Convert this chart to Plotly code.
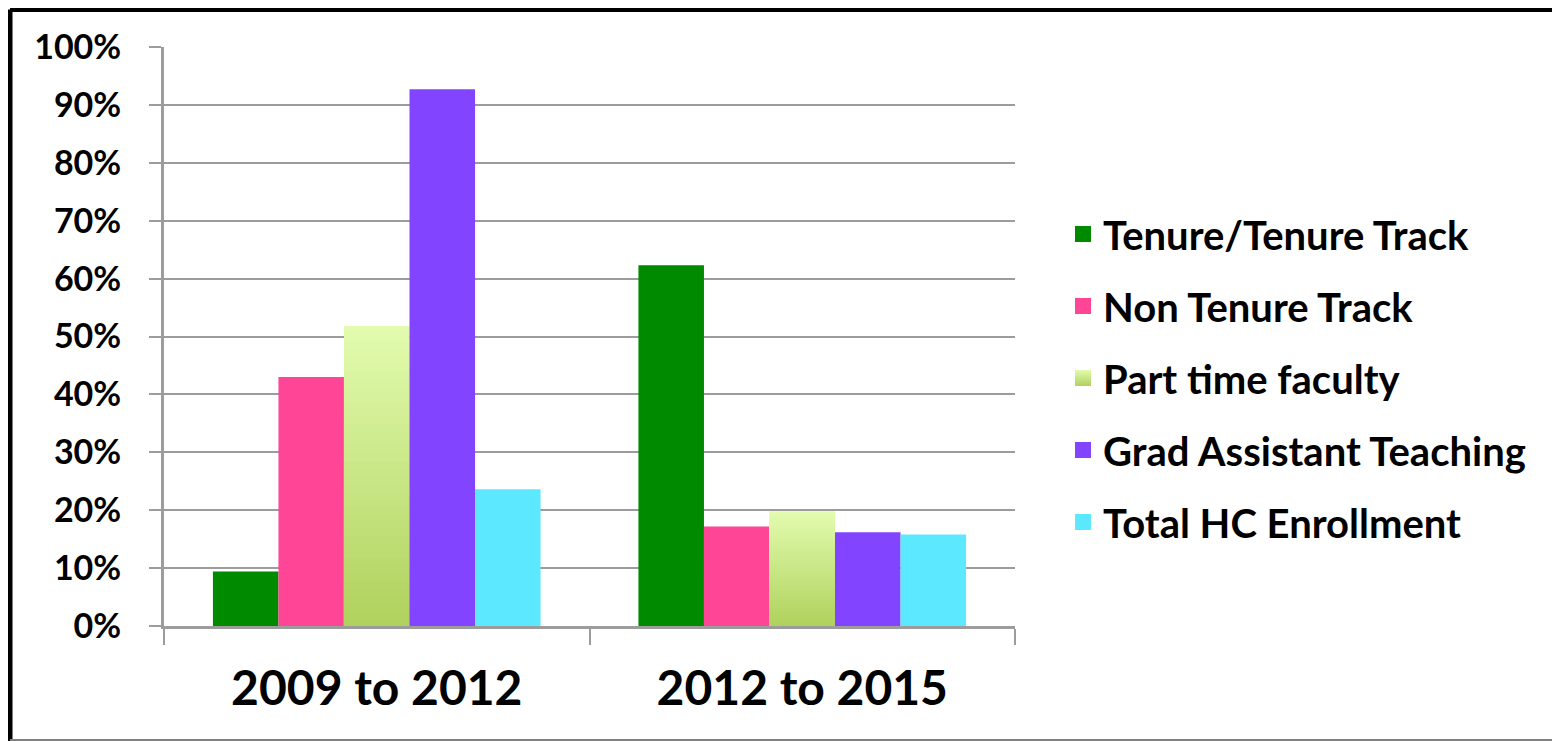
import plotly.graph_objects as go

categories = ["2009 to 2012", "2012 to 2015"]
series_names = ["Tenure/Tenure Track", "Non Tenure Track", "Part time faculty",
                "Grad Assistant Teaching", "Total HC Enrollment"]
tenure = [0.094, 0.623]
non_tenure = [0.430, 0.172]
part_time = [0.518, 0.198]
grad_assist = [0.927, 0.162]
total_hc = [0.236, 0.158]
y_ticks = [0, 0.1, 0.2, 0.3, 0.4, 0.5, 0.6, 0.7, 0.8, 0.9, 1.0]

series_values = [tenure, non_tenure, part_time, grad_assist, total_hc]
colors = ["#008A00", "#FF4596", "#E2FBAE", "#8344FF", "#5CE8FF"]
grad_top = (0xE2, 0xFB, 0xAE)
grad_bot = (0xB0, 0xD2, 0x5E)

BAR_W = 0.154
offsets = [-0.385, -0.231, -0.077, 0.077, 0.231]

# page body has an 8px margin; the figure is laid out to compensate
W, H = 1552, 733
L, T = 156, 39
PW, PH = 851, 579

fig = go.Figure()
FONT = "Lato"
for i, (name, vals, col) in enumerate(zip(series_names, series_values, colors)):
    fig.add_trace(go.Bar(
        x=categories, y=vals, name=name, width=BAR_W, offset=offsets[i],
        marker=dict(color=col, line=dict(width=0)),
        showlegend=False,
    ))
    if name == "Part time faculty":
        N = 40
        for k in range(1, N):
            t = k / (N - 1)
            c = tuple(round(grad_top[j] + (grad_bot[j] - grad_top[j]) * t) for j in range(3))
            frac = (N - k) / N
            fig.add_trace(go.Bar(
                x=categories, y=[v * frac for v in vals], width=BAR_W, offset=offsets[i],
                marker=dict(color="rgb(%d,%d,%d)" % c, line=dict(width=0)),
                showlegend=False, hoverinfo="skip",
            ))

# legend entries (square swatches)
for i, (name, col) in enumerate(zip(series_names, colors)):
    mk = dict(symbol="square", size=24, color=col, line=dict(width=0))
    if name == "Part time faculty":
        mk["color"] = "#E2FBAE"
        mk["gradient"] = dict(type="vertical", color="#B0D25E")
    fig.add_trace(go.Scatter(
        x=[None], y=[None], mode="markers", name=name, marker=mk,
        legendgroup=name, legendrank=i + 1, showlegend=True, hoverinfo="skip",
    ))

fig.update_layout(
    width=W, height=H,
    barmode="overlay",
    paper_bgcolor="white", plot_bgcolor="white",
    margin=dict(l=L, r=W - L - PW, t=T, b=H - T - PH),
    font=dict(family=FONT, color="black"),
    legend=dict(
        xref="container", yref="container", x=1055 / W, y=1 - 370 / H,
        xanchor="left", yanchor="middle",
        font=dict(family=FONT, size=40, weight="bold", color="black"),
        traceorder="grouped", tracegroupgap=17,
        itemsizing="trace",
        bgcolor="rgba(0,0,0,0)",
    ),
    showlegend=True,
)
fig.update_xaxes(
    type="category", range=[-0.5, 1.5],
    showline=True, linecolor="#9C9C9C", linewidth=3,
    ticks="outside", tickson="boundaries", ticklen=16, tickwidth=2, tickcolor="#9C9C9C",
    showgrid=False,
    tickfont=dict(family=FONT, size=48, weight="bold", color="black"),
    ticklabelstandoff=18,
)
fig.update_yaxes(
    range=[0, 1], tickvals=y_ticks, tickformat=".0%",
    showline=True, linecolor="#9C9C9C", linewidth=3,
    ticks="outside", ticklen=12, tickwidth=2, tickcolor="#9C9C9C",
    showgrid=True, gridcolor="#9C9C9C", gridwidth=2,
    zeroline=False,
    tickfont=dict(family=FONT, size=34, weight="bold", color="black"),
    ticklabelstandoff=21,
)
# outer frame of the chart
def px(xp):
    return (xp - L) / PW

def py(yp):
    return 1 - (yp - T) / PH

fig.add_shape(type="line", xref="paper", yref="paper", x0=px(2), x1=px(W),
              y0=py(1.5), y1=py(1.5), line=dict(color="black", width=5))
fig.add_shape(type="line", xref="paper", yref="paper", x0=px(2), x1=px(2),
              y0=py(1.5), y1=py(H), line=dict(color="black", width=5))
fig.add_shape(type="line", xref="paper", yref="paper", x0=px(2), x1=px(W),
              y0=py(H - 1), y1=py(H - 1), line=dict(color="#808080", width=2))

fig.write_html("out.html")
